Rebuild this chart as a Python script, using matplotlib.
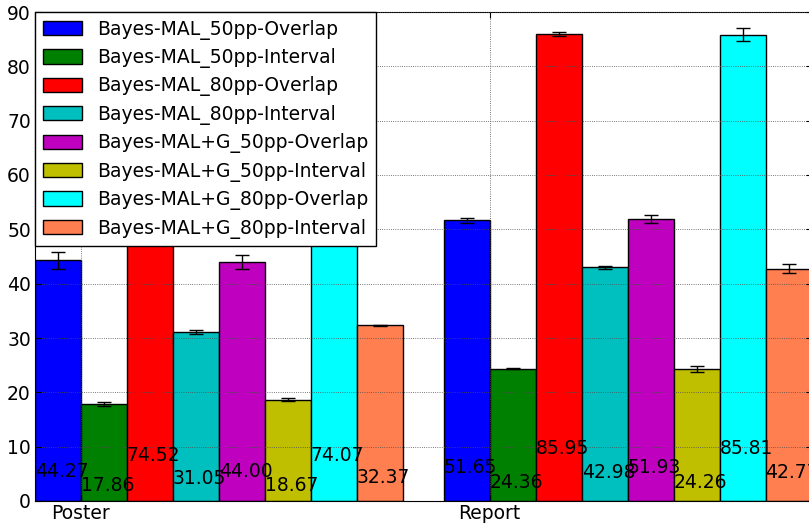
import matplotlib
matplotlib.use("Agg")
import matplotlib.pyplot as plt
import numpy as np

groups = ["Poster", "Report"]
series = [
    "Bayes-MAL_50pp-Overlap",
    "Bayes-MAL_50pp-Interval",
    "Bayes-MAL_80pp-Overlap",
    "Bayes-MAL_80pp-Interval",
    "Bayes-MAL+G_50pp-Overlap",
    "Bayes-MAL+G_50pp-Interval",
    "Bayes-MAL+G_80pp-Overlap",
    "Bayes-MAL+G_80pp-Interval",
]
poster_vals = [44.27, 17.86, 74.52, 31.05, 44.00, 18.67, 74.07, 32.37]
report_vals = [51.65, 24.36, 85.95, 42.98, 51.93, 24.26, 85.81, 42.77]
poster_err = [1.62, 0.3, 1.0, 0.35, 1.26, 0.2, 1.0, 0.1]
report_err = [0.43, 0.15, 0.3, 0.35, 0.8, 0.5, 1.2, 0.83]
colors = ["b", "g", "r", "c", "m", "y", "#00FFFF", "#FF7F50"]

plt.rcParams["font.family"] = "DejaVu Sans"
fs = 13.5

fig = plt.figure(figsize=(8.09, 5.25), dpi=100)
W, H = 809, 525
ax = fig.add_axes([35 / W, 24 / H, 776.5 / W, 489 / H])

ind = np.arange(len(groups))
width = 0.1125
for i, name in enumerate(series):
    vals = [poster_vals[i], report_vals[i]]
    errs = [poster_err[i], report_err[i]]
    xs = ind + i * width
    ax.bar(xs, vals, width, yerr=errs, color=colors[i], edgecolor="black",
           linewidth=1.0, align="edge", label=name,
           error_kw=dict(ecolor="black", capsize=5, elinewidth=1, capthick=1))
    for x, v in zip(xs, vals):
        ax.text(x, v / 10.0, "%.2f" % v, ha="left", va="baseline", fontsize=fs, zorder=5)

ax.set_xlim(0, 1.9)
ax.set_ylim(0, 90)
ax.set_yticks(np.arange(0, 91, 10))
ax.set_xticks(ind + width)
ax.set_xticklabels(groups)
ax.tick_params(direction="in", top=True, right=True, labelsize=fs, length=4)
ax.tick_params(axis="x", pad=2)
ax.tick_params(axis="y", pad=3)
ax.set_axisbelow(False)
ax.grid(True, linestyle=":", color="0.3", linewidth=0.6)

leg = ax.legend(loc="upper left", fontsize=fs, borderaxespad=0, fancybox=False,
                framealpha=1, edgecolor="black", handlelength=2.1, handleheight=0.8,
                handletextpad=0.8, labelspacing=0.45, borderpad=0.4)
leg.get_frame().set_linewidth(1.0)
leg.set_zorder(10)

fig.savefig("out.png", dpi=100)
